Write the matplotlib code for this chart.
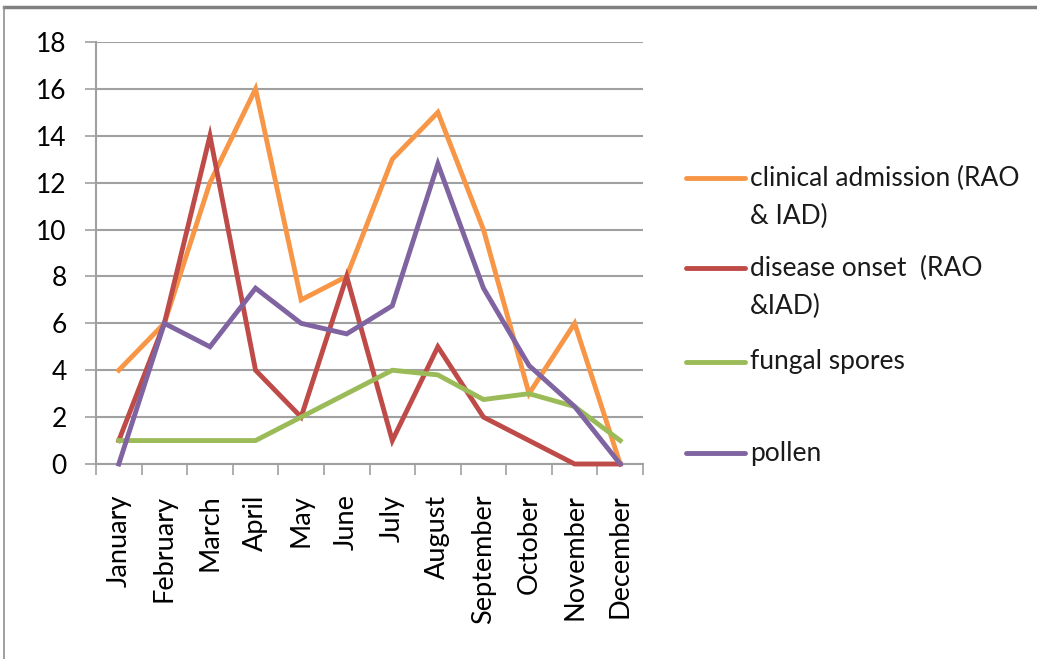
import matplotlib.pyplot as plt
import numpy as np
from matplotlib.lines import Line2D

plt.rcParams['font.family'] = ['Lato', 'DejaVu Sans']

months = ['January', 'February', 'March', 'April', 'May', 'June', 'July',
          'August', 'September', 'October', 'November', 'December']
clinical_admission = [4, 6, 12, 16, 7, 8, 13, 15, 10, 3, 6, 0]
disease_onset = [1, 6, 14, 4, 2, 8, 1, 5, 2, 1, 0, 0]
fungal_spores = [1, 1, 1, 1, 2, 3, 4, 3.8, 2.75, 3, 2.45, 1]
pollen = [0, 6, 5, 7.5, 6, 5.55, 6.75, 12.8, 7.5, 4.2, 2.45, 0]

series = [
    (clinical_admission, '#F79646', ['clinical admission (RAO', '& IAD)']),
    (disease_onset, '#BE4B48', ['disease onset  (RAO', '&IAD)']),
    (fungal_spores, '#9BBB59', ['fungal spores']),
    (pollen, '#8064A2', ['pollen']),
]

W, H = 1037, 659
fig = plt.figure(figsize=(W / 100, H / 100), dpi=100)
ax = fig.add_axes([96 / W, 1 - 464 / H, (643 - 96) / W, (464 - 42) / H])

x = np.arange(len(months))
for values, color, _ in series:
    ax.plot(x, values, color=color, lw=3.5, solid_joinstyle='miter', clip_on=False, zorder=3)

grid_col = '#A0A0A0'
ax.set_xlim(-0.5, len(months) - 0.5)
ax.set_ylim(0, 18)
ax.set_yticks(range(0, 19, 2))
ax.yaxis.grid(True, color=grid_col, lw=1.5)
ax.set_axisbelow(True)
ax.tick_params(axis='y', length=8, width=1.2, color=grid_col, pad=13, labelsize=19)

# category ticks sit between months, labels at month centres
ax.set_xticks(x)
ax.set_xticklabels(months, rotation=90, fontsize=19.5, va='top')
ax.set_xticks(np.arange(-0.5, len(months)), minor=True)
ax.tick_params(axis='x', which='major', length=0, pad=22)
ax.tick_params(axis='x', which='minor', length=8, width=1.2, color=grid_col)

for side in ['top', 'right']:
    ax.spines[side].set_visible(False)
for side in ['left', 'bottom']:
    ax.spines[side].set_color(grid_col)
    ax.spines[side].set_linewidth(1.5)

# legend drawn by hand, one row per series
row_y = [178, 268, 362, 453]
for (values, color, label), y in zip(series, row_y):
    fy = 1 - y / H
    fig.add_artist(Line2D([686 / W, 745 / W], [fy, fy], color=color, lw=3.5,
                          solid_capstyle='round', transform=fig.transFigure))
    for i, line in enumerate(label):
        fig.text(750 / W, 1 - (y + 38 * i) / H, line, fontsize=19,
                 va='center', ha='left', color='#1a1a1a')

# outer frame
fig.add_artist(Line2D([4 / W, 1], [1 - 7 / H, 1 - 7 / H], color='#808080', lw=2.5,
                      transform=fig.transFigure))
fig.add_artist(Line2D([4 / W, 4 / W], [0, 1 - 7 / H], color='#909090', lw=1.2,
                      transform=fig.transFigure))

fig.savefig('out.png', dpi=100)
